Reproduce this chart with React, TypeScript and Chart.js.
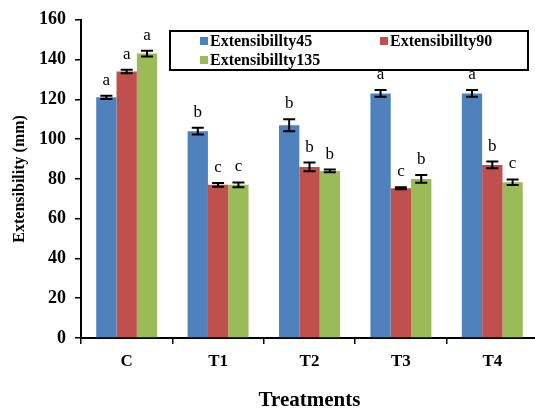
import React, { useEffect, useRef } from "react";
import { Chart, registerables } from "chart.js";

Chart.register(...registerables);

const categories = ["C", "T1", "T2", "T3", "T4"];
const seriesNames = ["Extensibillty45", "Extensibillty90", "Extensibillty135"];
const seriesColors = ["#4F81BD", "#C0504D", "#9BBB59"];
const ext45 = [121, 104, 107, 123, 123];
const ext90 = [134, 77, 86, 75.3, 87];
const ext135 = [143, 77, 84, 80, 78.3];
const err45 = [0.8, 1.7, 3, 1.7, 1.7];
const err90 = [0.9, 1, 2.2, 0.5, 1.7];
const err135 = [1.5, 1.2, 0.7, 1.9, 1.4];
const letters45 = ["a", "b", "b", "a", "a"];
const letters90 = ["a", "c", "b", "c", "b"];
const letters135 = ["a", "c", "b", "b", "c"];
const yTicks = [0, 20, 40, 60, 80, 100, 120, 140, 160];

const values = [ext45, ext90, ext135];
const errors = [err45, err90, err135];
const letters = [letters45, letters90, letters135];

const SERIF = "'Liberation Serif', 'Times New Roman', serif";

const errorBarPlugin = {
  id: "errorBars",
  afterDatasetsDraw(chart: any) {
    const ctx = chart.ctx;
    const yScale = chart.scales.y;
    ctx.save();
    chart.data.datasets.forEach((ds: any, di: number) => {
      const meta = chart.getDatasetMeta(di);
      meta.data.forEach((el: any, i: number) => {
        const v = values[di][i];
        const e = errors[di][i];
        const x = el.x;
        const top = yScale.getPixelForValue(v + e);
        const bot = yScale.getPixelForValue(v - e);
        ctx.strokeStyle = "#000";
        ctx.lineWidth = 2;
        ctx.beginPath();
        ctx.moveTo(x, top);
        ctx.lineTo(x, bot);
        ctx.moveTo(x - 6, top);
        ctx.lineTo(x + 6, top);
        ctx.moveTo(x - 6, bot);
        ctx.lineTo(x + 6, bot);
        ctx.stroke();
        ctx.fillStyle = "#000";
        ctx.font = "17px " + SERIF;
        ctx.textAlign = "center";
        ctx.textBaseline = "alphabetic";
        ctx.fillText(letters[di][i], x, top - 11);
      });
    });
    ctx.restore();
  },
};

const legendPlugin = {
  id: "boxLegend",
  afterDraw(chart: any) {
    const ctx = chart.ctx;
    ctx.save();
    const bx = 170, by = 31, bw = 358, bh = 39;
    ctx.fillStyle = "#fff";
    ctx.fillRect(bx, by, bw, bh);
    ctx.strokeStyle = "#000";
    ctx.lineWidth = 2;
    ctx.strokeRect(bx, by, bw, bh);
    const pos = [
      [200, 41],
      [380, 41],
      [200, 60],
    ];
    ctx.font = "bold 16px " + SERIF;
    ctx.textAlign = "left";
    ctx.textBaseline = "middle";
    chart.data.datasets.forEach((ds: any, i: number) => {
      const [x, y] = pos[i];
      ctx.fillStyle = ds.backgroundColor;
      ctx.fillRect(x, y - 4, 8, 8);
      ctx.fillStyle = "#000";
      ctx.fillText(ds.label, x + 10, y + 1);
    });
    ctx.restore();
  },
};

export default function App() {
  const ref = useRef<HTMLCanvasElement>(null);
  useEffect(() => {
    if (!ref.current) return;
    const chart = new Chart(ref.current, {
      type: "bar",
      data: {
        labels: categories,
        datasets: seriesNames.map((name, i) => ({
          label: name,
          data: values[i],
          backgroundColor: seriesColors[i],
          borderWidth: 0,
          categoryPercentage: 0.667,
          barPercentage: 1,
        })),
      },
      options: {
        animation: false,
        responsive: false,
        maintainAspectRatio: false,
        layout: { padding: { top: 16, left: 0, right: 0, bottom: 0 } },
        plugins: { legend: { display: false }, tooltip: { enabled: false } },
        scales: {
          x: {
            grid: {
              display: true,
              drawOnChartArea: false,
              drawTicks: true,
              tickLength: 6,
              color: "#000",
              lineWidth: 1.5,
              offset: true,
            },
            border: { display: true, color: "#000", width: 2 },
            ticks: {
              color: "#000",
              font: { family: SERIF, size: 17, weight: "bold" },
              padding: 7,
            },
            title: {
              display: true,
              text: "Treatments",
              color: "#000",
              font: { family: SERIF, size: 21, weight: "bold" },
              padding: { top: 0, bottom: 1 },
            },
            afterFit(scale: any) {
              scale.height = 76;
            },
          },
          y: {
            min: 0,
            max: 160,
            afterBuildTicks(scale: any) {
              scale.ticks = yTicks.map((v) => ({ value: v }));
            },
            grid: {
              display: true,
              drawOnChartArea: false,
              drawTicks: true,
              tickLength: 6,
              color: "#000",
              lineWidth: 1.5,
            },
            border: { display: true, color: "#000", width: 2 },
            ticks: {
              color: "#000",
              font: { family: SERIF, size: 18, weight: "bold" },
              padding: 9,
            },
            title: {
              display: true,
              text: "Extensibility (mm)",
              color: "#000",
              font: { family: SERIF, size: 16, weight: "bold" },
              padding: { top: 10, bottom: 0 },
            },
            afterFit(scale: any) {
              scale.width = 81;
            },
          },
        },
      },
      plugins: [errorBarPlugin, legendPlugin],
    } as any);
    return () => chart.destroy();
  }, []);
  return (
    <div
      style={{
        position: "absolute",
        left: 0,
        top: 0,
        width: 535,
        height: 414,
        overflow: "hidden",
        background: "#fff",
      }}
    >
      <canvas ref={ref} width={538} height={414} style={{ width: 538, height: 414 }} />
    </div>
  );
}
